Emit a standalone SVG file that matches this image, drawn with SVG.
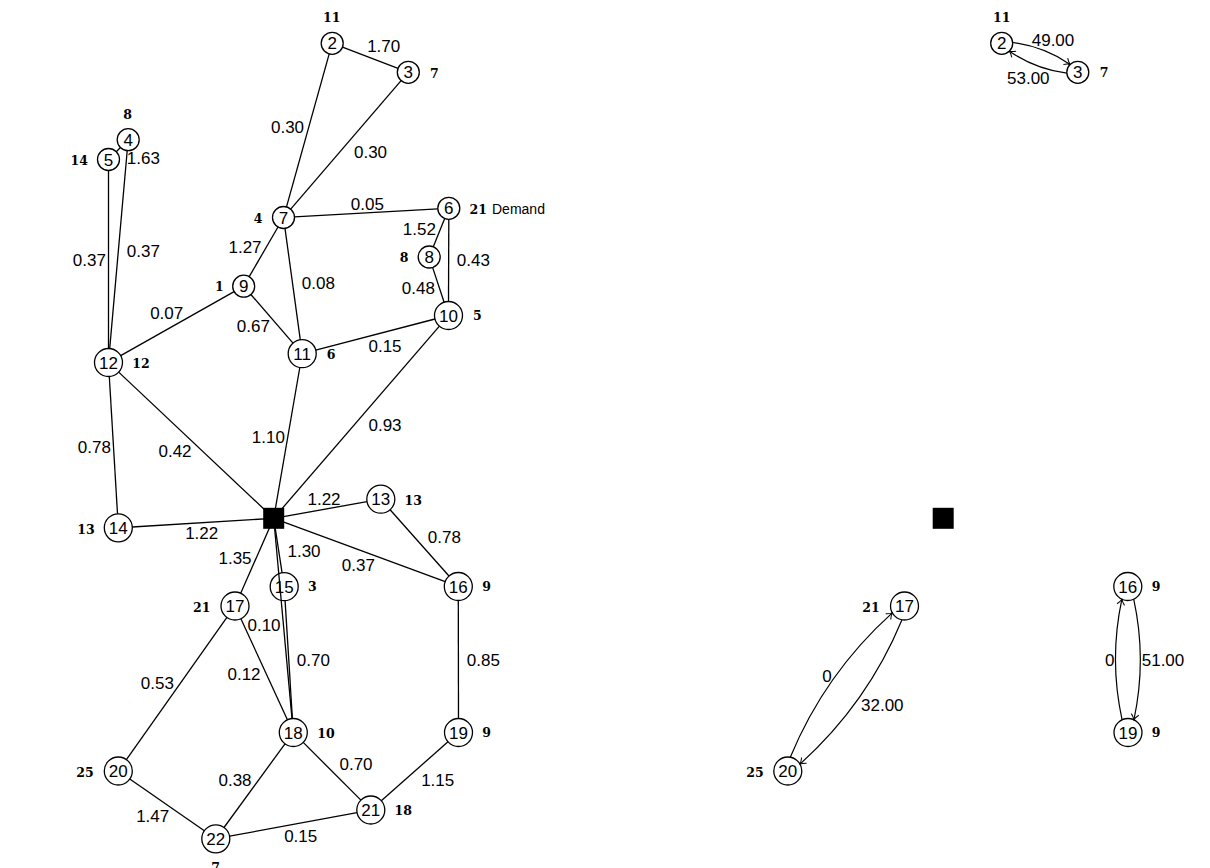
<svg xmlns="http://www.w3.org/2000/svg" width="1210" height="868" viewBox="0 0 1210 868">
<style>
.n{fill:#fff;stroke:#000;stroke-width:1.3}
.d{fill:#000}
.t{font-family:"Liberation Sans",Arial,sans-serif;font-size:17px;text-anchor:middle;fill:#000}
.b{font-family:"DejaVu Serif","Liberation Serif",serif;font-weight:bold;font-size:12.5px;text-anchor:middle;fill:#000}
.dm{font-family:"Liberation Sans",Arial,sans-serif;font-size:14px;fill:#000}
.e line{stroke:#000;stroke-width:1.3}
.e path{stroke:#000;stroke-width:1.2;fill:none;marker-end:url(#ar)}
</style>
<defs>
<marker id="ar" markerUnits="userSpaceOnUse" viewBox="-7 -5 8 10" markerWidth="8" markerHeight="10" refX="0" refY="0" orient="auto">
<path d="M-5.5,-3.8 C-3.5,-1.8 -1.2,-0.5 0,0 C-1.2,0.5 -3.5,1.8 -5.5,3.8" fill="none" stroke="#000" stroke-width="1"/>
</marker>
</defs>
<rect width="1210" height="868" fill="#fff"/>

<!-- left graph nodes -->
<g id="n2"><circle class="n" cx="332.2" cy="43.3" r="11"/><text class="t" x="332.2" y="49.4">2</text><text class="b" x="331.7" y="21.9">11</text></g>
<g id="n3"><circle class="n" cx="408.3" cy="72.3" r="11"/><text class="t" x="408.3" y="78.4">3</text><text class="b" x="434.3" y="77.9">7</text></g>
<g id="n4"><circle class="n" cx="128.2" cy="139.7" r="11"/><text class="t" x="128.2" y="145.8">4</text><text class="b" x="127.7" y="118.9">8</text></g>
<g id="n5"><circle class="n" cx="108.5" cy="159.5" r="11"/><text class="t" x="108.5" y="165.6">5</text><text class="b" x="79.3" y="164.6">14</text></g>
<g id="n6"><circle class="n" cx="448.8" cy="208.3" r="11"/><text class="t" x="448.8" y="214.4">6</text><text class="b" x="478.3" y="213.9">21</text><text class="dm" x="492" y="214">Demand</text></g>
<g id="n7"><circle class="n" cx="283.5" cy="217.5" r="11"/><text class="t" x="283.5" y="223.6">7</text><text class="b" x="258" y="222.9">4</text></g>
<g id="n8"><circle class="n" cx="429.2" cy="257" r="11"/><text class="t" x="429.2" y="263.1">8</text><text class="b" x="404" y="261.9">8</text></g>
<g id="n9"><circle class="n" cx="243.7" cy="286.2" r="11"/><text class="t" x="243.7" y="292.3">9</text><text class="b" x="219.3" y="290.6">1</text></g>
<g id="n10"><circle class="n" cx="448.5" cy="315.5" r="14"/><text class="t" x="448.5" y="321.6">10</text><text class="b" x="477.3" y="319.6">5</text></g>
<g id="n11"><circle class="n" cx="302.2" cy="353.7" r="14"/><text class="t" x="302.2" y="359.8">11</text><text class="b" x="331" y="358.6">6</text></g>
<g id="n12"><circle class="n" cx="108.5" cy="362.5" r="14"/><text class="t" x="108.5" y="368.6">12</text><text class="b" x="141" y="367.9">12</text></g>
<g id="n13"><circle class="n" cx="380.8" cy="499.2" r="14"/><text class="t" x="380.8" y="505.3">13</text><text class="b" x="413.3" y="504.6">13</text></g>
<g id="n14"><circle class="n" cx="118.3" cy="527.8" r="14"/><text class="t" x="118.3" y="533.9">14</text><text class="b" x="86" y="533.6">13</text></g>
<g id="n15"><circle class="n" cx="284.2" cy="586.7" r="14"/><text class="t" x="284.2" y="592.8">15</text><text class="b" x="312.3" y="591.3">3</text></g>
<g id="n16"><circle class="n" cx="458.3" cy="586.5" r="14"/><text class="t" x="458.3" y="592.6">16</text><text class="b" x="486.7" y="591.3">9</text></g>
<g id="n17"><circle class="n" cx="235" cy="606" r="14"/><text class="t" x="235" y="612.1">17</text><text class="b" x="201.7" y="611.9">21</text></g>
<g id="n18"><circle class="n" cx="293.3" cy="732.5" r="14"/><text class="t" x="293.3" y="738.6">18</text><text class="b" x="326" y="737.9">10</text></g>
<g id="n19"><circle class="n" cx="458.5" cy="732.5" r="14"/><text class="t" x="458.5" y="738.6">19</text><text class="b" x="486.7" y="737.3">9</text></g>
<g id="n20"><circle class="n" cx="118.3" cy="771" r="14"/><text class="t" x="118.3" y="777.1">20</text><text class="b" x="85" y="776.9">25</text></g>
<g id="n21"><circle class="n" cx="370.8" cy="810" r="14"/><text class="t" x="370.8" y="816.1">21</text><text class="b" x="403.3" y="815.3">18</text></g>
<g id="n22"><circle class="n" cx="215.8" cy="838.8" r="14"/><text class="t" x="215.8" y="844.9">22</text><text class="b" x="215.7" y="872">7</text></g>
<g id="depot"><rect class="d" x="263.2" y="507.8" width="21" height="21"/></g>

<!-- right graph nodes -->
<g id="r2"><circle class="n" cx="1001.7" cy="43.3" r="11"/><text class="t" x="1001.7" y="49.4">2</text><text class="b" x="1001.7" y="21.9">11</text></g>
<g id="r3"><circle class="n" cx="1077.8" cy="72.3" r="11"/><text class="t" x="1077.8" y="78.4">3</text><text class="b" x="1104" y="77.3">7</text></g>
<g id="r16"><circle class="n" cx="1127.8" cy="586.5" r="14"/><text class="t" x="1127.8" y="592.6">16</text><text class="b" x="1156" y="591.3">9</text></g>
<g id="r17"><circle class="n" cx="904.5" cy="606" r="14"/><text class="t" x="904.5" y="612.1">17</text><text class="b" x="871" y="611.6">21</text></g>
<g id="r19"><circle class="n" cx="1128" cy="732.5" r="14"/><text class="t" x="1128" y="738.6">19</text><text class="b" x="1156" y="737.3">9</text></g>
<g id="r20"><circle class="n" cx="787.8" cy="771" r="14"/><text class="t" x="787.8" y="777.1">20</text><text class="b" x="755" y="776.9">25</text></g>
<g id="rdepot"><rect class="d" x="932.7" y="507.8" width="21" height="21"/></g>

<!-- connectors -->
<g id="connectors" class="e">
<line x1="342.5" y1="47.2" x2="398.0" y2="68.4"/>
<line x1="329.2" y1="53.9" x2="286.5" y2="206.9"/>
<line x1="401.1" y1="80.6" x2="290.7" y2="209.2"/>
<line x1="294.5" y1="216.9" x2="437.8" y2="208.9"/>
<line x1="278.0" y1="227.0" x2="249.2" y2="276.7"/>
<line x1="285.0" y1="228.4" x2="300.3" y2="339.8"/>
<line x1="444.7" y1="218.5" x2="433.3" y2="246.8"/>
<line x1="448.8" y1="219.3" x2="448.5" y2="301.5"/>
<line x1="432.6" y1="267.4" x2="444.1" y2="302.2"/>
<line x1="234.1" y1="291.6" x2="120.7" y2="355.6"/>
<line x1="250.9" y1="294.5" x2="293.0" y2="343.1"/>
<line x1="315.7" y1="350.2" x2="435.0" y2="319.0"/>
<line x1="299.8" y1="367.5" x2="273.7" y2="518.3"/>
<line x1="439.4" y1="326.1" x2="273.7" y2="518.3"/>
<line x1="120.4" y1="147.5" x2="116.3" y2="151.7"/>
<line x1="127.2" y1="150.7" x2="109.7" y2="348.6"/>
<line x1="108.5" y1="170.5" x2="108.5" y2="348.5"/>
<line x1="118.7" y1="372.1" x2="273.7" y2="518.3"/>
<line x1="109.3" y1="376.5" x2="117.5" y2="513.8"/>
<line x1="132.3" y1="527.0" x2="273.7" y2="518.3"/>
<line x1="273.7" y1="518.3" x2="367.0" y2="501.7"/>
<line x1="273.7" y1="518.3" x2="445.2" y2="581.7"/>
<line x1="390.1" y1="509.7" x2="449.0" y2="576.0"/>
<line x1="273.7" y1="518.3" x2="240.7" y2="593.2"/>
<line x1="273.7" y1="518.3" x2="282.1" y2="572.9"/>
<line x1="285.1" y1="600.7" x2="292.4" y2="718.5"/>
<line x1="273.7" y1="518.3" x2="292.0" y2="718.6"/>
<line x1="240.9" y1="618.7" x2="287.4" y2="719.8"/>
<line x1="226.9" y1="617.4" x2="126.4" y2="759.6"/>
<line x1="285.0" y1="743.8" x2="224.0" y2="827.5"/>
<line x1="303.2" y1="742.4" x2="360.9" y2="800.1"/>
<line x1="458.3" y1="600.5" x2="458.5" y2="718.5"/>
<line x1="448.0" y1="741.8" x2="381.3" y2="800.7"/>
<line x1="129.8" y1="779.0" x2="204.3" y2="830.8"/>
<line x1="229.6" y1="836.2" x2="357.0" y2="812.6"/>
<path d="M1012.7,42.5 Q1044.0,46.6 1070.1,64.4"/>
<path d="M1066.8,73.1 Q1035.5,69.0 1009.4,51.2"/>
<path d="M790.3,757.2 Q825.0,673.5 892.3,612.9"/>
<path d="M902.0,619.8 Q867.4,703.5 800.0,764.1"/>
<path d="M1122.1,719.8 Q1108.9,659.5 1121.9,599.2"/>
<path d="M1133.7,599.2 Q1146.9,659.5 1133.9,719.8"/>
</g>

<!-- edge labels -->
<g id="labels" class="t">
<text class="t" x="383.7" y="52.1">1.70</text>
<text class="t" x="287.5" y="133.1">0.30</text>
<text class="t" x="370.5" y="158.4">0.30</text>
<text class="t" x="367.3" y="210.1">0.05</text>
<text class="t" x="419.3" y="235.4">1.52</text>
<text class="t" x="473.3" y="266.1">0.43</text>
<text class="t" x="418.3" y="294.4">0.48</text>
<text class="t" x="245" y="252.8">1.27</text>
<text class="t" x="318.3" y="288.8">0.08</text>
<text class="t" x="253.3" y="331.8">0.67</text>
<text class="t" x="166.7" y="318.8">0.07</text>
<text class="t" x="385" y="351.8">0.15</text>
<text class="t" x="89.3" y="266.1">0.37</text>
<text class="t" x="143.3" y="256.8">0.37</text>
<text class="t" x="143.3" y="164.4">1.63</text>
<text class="t" x="94.3" y="453.4">0.78</text>
<text class="t" x="175" y="456.8">0.42</text>
<text class="t" x="268.3" y="443.4">1.10</text>
<text class="t" x="385" y="431.1">0.93</text>
<text class="t" x="324" y="505.4">1.22</text>
<text class="t" x="201.7" y="539.4">1.22</text>
<text class="t" x="235" y="564.4">1.35</text>
<text class="t" x="304" y="557.4">1.30</text>
<text class="t" x="358.3" y="571.1">0.37</text>
<text class="t" x="444.3" y="542.8">0.78</text>
<text class="t" x="264" y="631.1">0.10</text>
<text class="t" x="313.3" y="666.1">0.70</text>
<text class="t" x="244" y="680.1">0.12</text>
<text class="t" x="157.3" y="688.8">0.53</text>
<text class="t" x="483.3" y="666.1">0.85</text>
<text class="t" x="235" y="786.1">0.38</text>
<text class="t" x="356" y="770.1">0.70</text>
<text class="t" x="437.7" y="786.1">1.15</text>
<text class="t" x="152.7" y="822.1">1.47</text>
<text class="t" x="300.7" y="842.1">0.15</text>
<text class="t" x="1053" y="46">49.00</text>
<text class="t" x="1028.3" y="83.9">53.00</text>
<text class="t" x="827" y="682.3">0</text>
<text class="t" x="882.3" y="710.6">32.00</text>
<text class="t" x="1109.7" y="666.1">0</text>
<text class="t" x="1163" y="666.1">51.00</text>
</g>
</svg>
